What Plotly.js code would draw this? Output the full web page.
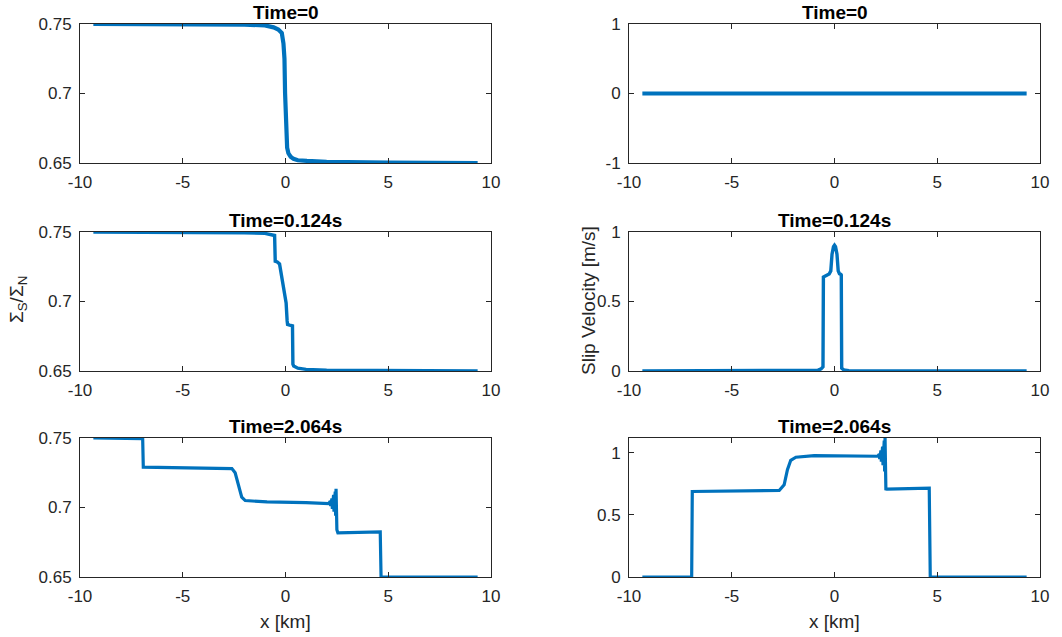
<!DOCTYPE html>
<html>
<head>
<meta charset="utf-8">
<script src="https://cdn.plot.ly/plotly-3.0.1.min.js"></script>
<style>html,body{margin:0;padding:0;background:#fff;}#chart{width:1062px;height:637px;}</style>
</head>
<body>
<div id="chart"></div>
<script>
// ---- Data ----
const titles = ["Time=0", "Time=0", "Time=0.124s", "Time=0.124s", "Time=2.064s", "Time=2.064s"];
const xTicks = [-10, -5, 0, 5, 10];

// Time=0, stress ratio
const x_t0_ratio = [-9.35, -5, -2, -1, -0.58, -0.35, -0.18, -0.1, -0.05, -0.02, 0.0, 0.03, 0.08, 0.14, 0.25, 0.39, 0.6, 1.04, 2, 5, 9.35];
const y_t0_ratio = [0.75, 0.7499, 0.7495, 0.749, 0.7476, 0.746, 0.7435, 0.736, 0.725, 0.70, 0.69, 0.667, 0.661, 0.657, 0.6545, 0.653, 0.652, 0.6515, 0.6508, 0.6502, 0.65];

// Time=0, slip velocity
const x_t0_slip = [-9.35, -5, 0, 5, 9.35];
const y_t0_slip = [0, 0, 0, 0, 0];

// Time=0.124s, stress ratio
const x_t1_ratio = [-9.35, -5, -2, -1, -0.6, -0.53, -0.5, -0.4, -0.29, -0.2, -0.1, -0.06, 0, 0.03, 0.08, 0.1, 0.2, 0.34, 0.36, 0.4, 0.6, 1, 2, 5, 9.35];
const y_t1_ratio = [0.75, 0.7498, 0.7494, 0.749, 0.7478, 0.7475, 0.729, 0.7285, 0.727, 0.72, 0.711, 0.706, 0.702, 0.699, 0.686, 0.6835, 0.683, 0.6825, 0.655, 0.6535, 0.652, 0.6512, 0.6506, 0.6502, 0.65];

// Time=0.124s, slip velocity
const x_t1_slip = [-9.35, -3, -1.2, -0.8, -0.65, -0.56, -0.54, -0.4, -0.26, -0.18, -0.12, -0.05, 0, 0.05, 0.12, 0.18, 0.24, 0.31, 0.33, 0.35, 0.45, 0.7, 1.2, 3, 9.35];
const y_t1_slip = [0, 0, 0.002, 0.006, 0.015, 0.03, 0.676, 0.688, 0.698, 0.72, 0.84, 0.895, 0.905, 0.895, 0.84, 0.72, 0.70, 0.695, 0.69, 0.02, 0.008, 0.003, 0.001, 0, 0];

// Time=2.064s, stress ratio
const x_t2_ratio = [-9.35, -8, -6.95, -6.92, -5, -3, -2.61, -2.45, -2.29, -2.13, -1.96, -0.9, 1, 2.1, 2.18, 2.2, 2.26, 2.28, 2.34, 2.36, 2.42, 2.44, 2.46, 2.48, 2.5, 2.55, 3.5, 4.61, 4.65, 6, 9.35];
const y_t2_ratio = [0.75, 0.7498, 0.7495, 0.729, 0.7285, 0.7283, 0.728, 0.725, 0.717, 0.7075, 0.705, 0.704, 0.7035, 0.7028, 0.7045, 0.701, 0.7065, 0.699, 0.709, 0.697, 0.7115, 0.694, 0.7135, 0.690, 0.684, 0.6817, 0.6822, 0.6824, 0.65, 0.65, 0.65];

// Time=2.064s, slip velocity
const x_t2_slip = [-9.35, -8, -6.95, -6.92, -5, -3, -2.69, -2.45, -2.29, -2.13, -1.88, -0.99, 1, 2.1, 2.18, 2.2, 2.26, 2.28, 2.34, 2.36, 2.42, 2.44, 2.46, 2.48, 2.5, 2.55, 3.5, 4.61, 4.66, 6, 9.35];
const y_t2_slip = [0, 0, 0, 0.689, 0.692, 0.695, 0.697, 0.743, 0.865, 0.94, 0.965, 0.978, 0.978, 0.973, 0.99, 0.95, 1.02, 0.93, 1.05, 0.90, 1.10, 0.85, 1.12, 0.78, 0.71, 0.708, 0.714, 0.716, 0, 0, 0];

const xs = [x_t0_ratio, x_t0_slip, x_t1_ratio, x_t1_slip, x_t2_ratio, x_t2_slip];
const ys = [y_t0_ratio, y_t0_slip, y_t1_ratio, y_t1_slip, y_t2_ratio, y_t2_slip];

const yRanges = [[0.65, 0.75], [-1, 1], [0.65, 0.75], [0, 1], [0.65, 0.75], [0, 1.12]];
const yTicks = [[0.65, 0.7, 0.75], [-1, 0, 1], [0.65, 0.7, 0.75], [0, 0.5, 1], [0.65, 0.7, 0.75], [0, 0.5, 1]];

// ---- Layout geometry (pixels) ----
const W = 1062, H = 637;
const colX = [[80, 491], [629, 1040]];
const rowY = [[24, 163], [232, 371], [438, 577]];
const lineW = [4.2, 3.4, 3.2];
const FONT = "Liberation Sans, Arial, Helvetica, sans-serif";
const INK = "#262626";
const BLUE = "#0072BD";

const traces = [];
const layout = {
  width: W, height: H,
  margin: {l: 0, r: 0, t: 0, b: 0},
  paper_bgcolor: "#fff", plot_bgcolor: "#fff",
  showlegend: false,
  font: {family: FONT, size: 17, color: INK},
  annotations: []
};

for (let i = 0; i < 6; i++) {
  const c = i % 2, r = Math.floor(i / 2);
  const n = i + 1;
  const xa = n === 1 ? "xaxis" : "xaxis" + n;
  const ya = n === 1 ? "yaxis" : "yaxis" + n;
  traces.push({
    x: xs[i], y: ys[i], type: "scatter", mode: "lines",
    xaxis: "x" + (n === 1 ? "" : n), yaxis: "y" + (n === 1 ? "" : n),
    line: {color: BLUE, width: lineW[r]},
    hoverinfo: "skip"
  });
  const common = {
    showline: true, mirror: "ticks", linecolor: INK, linewidth: 1,
    ticks: "inside", ticklen: 5, tickwidth: 1, tickcolor: INK,
    showgrid: false, zeroline: false, fixedrange: true,
    tickfont: {family: FONT, size: 17, color: INK}
  };
  layout[xa] = Object.assign({}, common, {
    domain: [colX[c][0] / W, colX[c][1] / W],
    anchor: "y" + (n === 1 ? "" : n),
    range: [-10, 10], tickvals: xTicks, ticktext: xTicks.map(String),
    ticklabelstandoff: 4
  });
  layout[ya] = Object.assign({}, common, {
    domain: [1 - rowY[r][1] / H, 1 - rowY[r][0] / H],
    anchor: "x" + (n === 1 ? "" : n),
    range: yRanges[i], tickvals: yTicks[i], ticktext: yTicks[i].map(String),
    ticklabelstandoff: 4
  });
  layout.annotations.push({
    text: "<b>" + titles[i] + "</b>", xref: "paper", yref: "paper",
    x: (colX[c][0] + colX[c][1]) / 2 / W, y: 1 - (rowY[r][0] - 12) / H,
    xanchor: "center", yanchor: "middle", showarrow: false,
    font: {family: FONT, size: 19, color: "#000"}
  });
}

// axis titles
layout.annotations.push({
  text: "Σ<sub>S</sub>/Σ<sub>N</sub>", xref: "paper", yref: "paper",
  x: 18 / W, y: 1 - 300 / H, xanchor: "center", yanchor: "middle",
  textangle: -90, showarrow: false, font: {family: FONT, size: 19, color: INK}
});
layout.annotations.push({
  text: "Slip Velocity [m/s]", xref: "paper", yref: "paper",
  x: 588 / W, y: 1 - 301 / H, xanchor: "center", yanchor: "middle",
  textangle: -90, showarrow: false, font: {family: FONT, size: 19, color: INK}
});
for (let c = 0; c < 2; c++) {
  layout.annotations.push({
    text: "x [km]", xref: "paper", yref: "paper",
    x: (colX[c][0] + colX[c][1]) / 2 / W, y: 1 - 621 / H,
    xanchor: "center", yanchor: "middle", showarrow: false,
    font: {family: FONT, size: 19, color: INK}
  });
}

Plotly.newPlot("chart", traces, layout, {staticPlot: true, displayModeBar: false});
</script>
</body>
</html>
